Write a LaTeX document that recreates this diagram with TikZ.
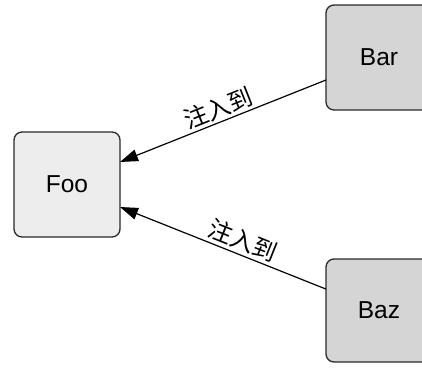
\documentclass[tikz,border=0pt]{standalone}
\usepackage{fontspec}
\setmainfont{Liberation Sans}
\newfontfamily\cjk{Noto Sans CJK SC}
\usetikzlibrary{arrows.meta}
\definecolor{boxline}{HTML}{2A2A2A}
\definecolor{lightfill}{HTML}{EDEDED}
\definecolor{darkfill}{HTML}{D5D5D5}
\begin{document}
\begin{tikzpicture}[x=1pt,y=-1pt,
  box/.style={draw=boxline, line width=1.3pt, rounded corners=8pt, outer sep=0pt,
    minimum width=106pt, minimum height=105pt, inner sep=0pt,
    font=\fontsize{24.5}{28}\selectfont},
  arr/.style={line width=1.2pt, draw=black, -{Triangle[length=18pt,width=12pt]}},
  lbl/.style={font=\cjk\fontsize{24}{28}\selectfont, inner sep=0pt}]
\useasboundingbox (0,0) rectangle (422,367);
\node[box, fill=lightfill] (foo) at (67,184.5) {Foo};
\node[box, fill=darkfill] (bar) at (379,57.5) {Bar};
\node[box, fill=darkfill, minimum height=103pt] (baz) at (379,310.5) {Baz};
\draw[arr] (bar.203) -- (foo.23);
\draw[arr] (baz.158) -- (foo.-23);
\node[lbl, rotate=21.8] (l1) at (218,108) {注入到};
\node[lbl, rotate=-21.8] (l2) at (243,240) {注入到};
\end{tikzpicture}
\end{document}
